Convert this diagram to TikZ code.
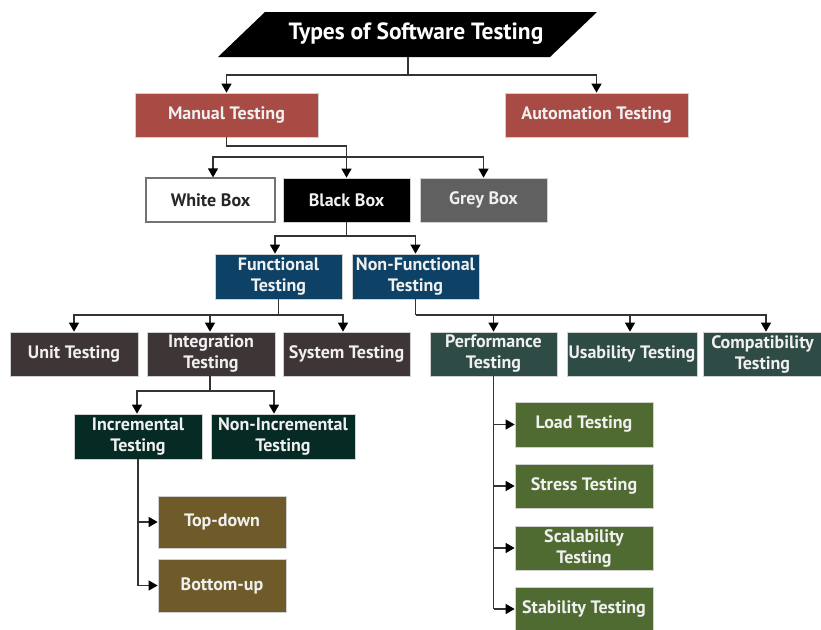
\documentclass[tikz,border=0pt]{standalone}
\usepackage{fontspec}
\setmainfont{PT Sans}
\usetikzlibrary{arrows.meta}
\definecolor{cManual}{HTML}{A84B45}
\definecolor{cGrey}{HTML}{606060}
\definecolor{cBlue}{HTML}{0D4166}
\definecolor{cBrown}{HTML}{3E3536}
\definecolor{cTeal}{HTML}{2F4B46}
\definecolor{cDkGreen}{HTML}{062B24}
\definecolor{cOlive}{HTML}{6F5B2A}
\definecolor{cGreen}{HTML}{4F6B31}
\definecolor{cLine}{HTML}{333333}
\begin{document}
\begin{tikzpicture}[x=1pt,y=-1pt,
  box/.style={rectangle, minimum height=44pt, inner sep=0pt, text=white!94!black,
    font=\bfseries\fontsize{18}{21}\selectfont, align=center, draw=black!18, line width=0.7pt},
  arr/.style={-{Triangle[length=9pt,width=10pt,color=black]}, draw=cLine, line width=1.3pt},
  ln/.style={draw=cLine, line width=1.3pt},
  titletext/.style={text=white, font=\bfseries\fontsize{23.5}{26}\selectfont, inner sep=0pt}
]
\useasboundingbox (0,0) rectangle (821,629);
% title parallelogram
\fill[black] (265,12) -- (597,12) -- (550,57) -- (218,57) -- cycle;
\node[titletext] (title) at (416,34) {Types of Software Testing};
\coordinate (tb) at (408,57);
% level 1
\node[box, fill=cManual, minimum width=183pt] (manual) at (226.5,115) {Manual Testing};
\node[box, fill=cManual, minimum width=183pt] (auto) at (596.5,115) {Automation Testing};
% level 2
\node[box, fill=white, text=black!85, draw=black!55, line width=1.2pt, minimum width=129pt] (white) at (210.5,200) {White Box};
\node[box, fill=black, minimum width=127pt] (black) at (346.5,200) {Black Box};
\node[box, fill=cGrey, minimum width=127pt] (grey) at (483.5,200) {Grey Box};
% level 3
\node[box, fill=cBlue, minimum width=127pt, minimum height=45pt] (func) at (278.5,276.5) {Functional\\Testing};
\node[box, fill=cBlue, minimum width=127pt, minimum height=45pt] (nonfunc) at (415.5,276.5) {Non-Functional\\Testing};
% level 4
\node[box, fill=cBrown, minimum width=128pt] (unit) at (74,354) {Unit Testing};
\node[box, fill=cBrown, minimum width=128pt] (integ) at (211,354) {Integration\\Testing};
\node[box, fill=cBrown, minimum width=127pt] (system) at (346.5,354) {System Testing};
\node[box, fill=cTeal, minimum width=127pt] (perf) at (493.5,354) {Performance\\Testing};
\node[box, fill=cTeal, minimum width=130pt] (usab) at (632,354) {Usability Testing};
\node[box, fill=cTeal, minimum width=119pt] (compat) at (762.5,354) {Compatibility\\Testing};
% level 5
\node[box, fill=cDkGreen, minimum width=128pt, minimum height=45pt] (incr) at (138,436.5) {Incremental\\Testing};
\node[box, fill=cDkGreen, minimum width=144pt, minimum height=45pt] (nonincr) at (283,436.5) {Non-Incremental\\Testing};
\node[box, fill=cOlive, minimum width=128pt, minimum height=52pt] (topdown) at (222,522) {Top-down};
\node[box, fill=cOlive, minimum width=128pt, minimum height=53pt] (bottomup) at (222,585.5) {Bottom-up};
\node[box, fill=cGreen, minimum width=138pt, minimum height=45pt] (load) at (584,424.5) {Load Testing};
\node[box, fill=cGreen, minimum width=138pt] (stress) at (584,486) {Stress Testing};
\node[box, fill=cGreen, minimum width=138pt] (scal) at (584,548) {Scalability\\Testing};
\node[box, fill=cGreen, minimum width=138pt] (stab) at (584,609) {Stability Testing};
% connectors
\coordinate (t1) at (408,75);
\draw[ln] (tb) -- (t1);
\draw[arr] (t1) -| (manual.north);
\draw[arr] (t1) -| (auto.north);
\coordinate (m1) at (226.5,146);
\coordinate (m2) at (346.5,157);
\draw[ln] (manual.south) -- (m1) -| (m2);
\draw[arr] (m2) -- (black.north);
\draw[arr] (m2) -| ([xshift=2.5pt]white.north);
\draw[arr] (m2) -| (grey.north);
\coordinate (b1) at (346.5,236);
\draw[ln] (black.south) -- (b1);
\draw[arr] (b1) -| ([xshift=-3.5pt]func.north);
\draw[arr] (b1) -| (nonfunc.north);
\coordinate (f1) at (278.5,315);
\draw[ln] (func.south) -- (f1);
\draw[arr] (f1) -| (unit.north);
\draw[arr] (f1) -| ([xshift=-1pt]integ.north);
\draw[arr] (f1) -| ([xshift=-3.5pt]system.north);
\coordinate (n1) at (415.5,315);
\draw[ln] (nonfunc.south) -- (n1);
\draw[arr] (n1) -| (perf.north);
\draw[arr] (n1) -| ([xshift=-2pt]usab.north);
\draw[arr] (n1) -| ([xshift=3.5pt]compat.north);
\coordinate (i1) at (210,391);
\draw[ln] ([xshift=-1pt]integ.south) -- (i1);
\draw[arr] (i1) -| ([xshift=-1pt]incr.north);
\draw[arr] (i1) -| ([xshift=-9pt]nonincr.north);
\coordinate (c1) at (138,585.5);
\draw[ln] (incr.south) -- (c1);
\draw[arr] (incr.south |- topdown.west) -- (topdown.west);
\draw[arr] (c1) -- (bottomup.west);
\coordinate (p1) at (493.5,609);
\draw[ln] (perf.south) -- (p1);
\draw[arr] (perf.south |- load.west) -- (load.west);
\draw[arr] (perf.south |- stress.west) -- (stress.west);
\draw[arr] (perf.south |- scal.west) -- (scal.west);
\draw[arr] (p1) -- (stab.west);
\end{tikzpicture}
\end{document}
